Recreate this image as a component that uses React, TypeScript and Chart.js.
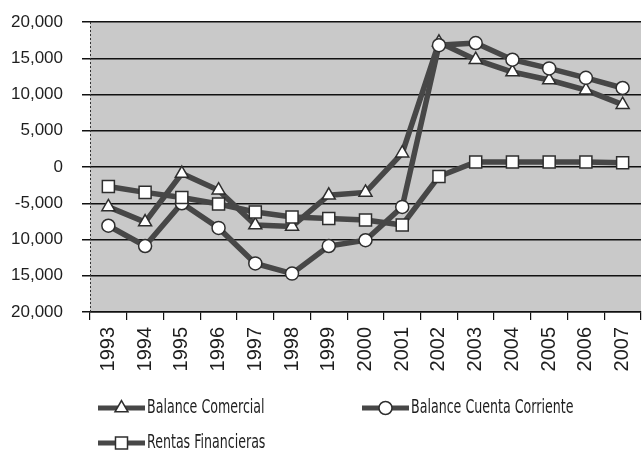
import React, { useEffect, useRef } from 'react';
import { Chart, registerables } from 'chart.js';

Chart.register(...registerables);

const years = ['1993', '1994', '1995', '1996', '1997', '1998', '1999', '2000', '2001', '2002', '2003', '2004', '2005', '2006', '2007'];
const balanceComercial = [-5500, -7600, -900, -3200, -8000, -8200, -3900, -3500, 1900, 17200, 14800, 13100, 12000, 10600, 8600];
const balanceCuentaCorriente = [-8100, -10900, -5000, -8400, -13300, -14700, -10900, -10100, -5500, 16800, 17100, 14800, 13600, 12300, 10900];
const rentasFinancieras = [-2700, -3500, -4200, -5100, -6200, -6900, -7100, -7300, -8000, -1300, 700, 700, 700, 700, 600];
const seriesNames = ['Balance Comercial', 'Balance Cuenta Corriente', 'Rentas Financieras'];
const yTickValues = [20000, 15000, 10000, 5000, 0, -5000, -10000, -15000, -20000];
const yTickLabels = ['20,000', '15,000', '10,000', '5,000', '0', '-5,000', '10,000', '15,000', '20,000'];

const LINE = '#474747';
const MARK_BORDER = '#2e2e2e';
const PLOT_BG = '#c9c9c9';

function drawMarker(ctx: CanvasRenderingContext2D, style: string, x: number, y: number, r: number) {
  ctx.beginPath();
  if (style === 'triangle') {
    ctx.moveTo(x, y - r);
    ctx.lineTo(x + Math.sin((2 * Math.PI) / 3) * r, y + r / 2);
    ctx.lineTo(x - Math.sin((2 * Math.PI) / 3) * r, y + r / 2);
    ctx.closePath();
  } else if (style === 'rect') {
    const s = Math.SQRT1_2 * r;
    ctx.rect(x - s, y - s, 2 * s, 2 * s);
  } else {
    ctx.arc(x, y, r, 0, Math.PI * 2);
  }
  ctx.fillStyle = '#ffffff';
  ctx.fill();
  ctx.lineWidth = 1.5;
  ctx.strokeStyle = MARK_BORDER;
  ctx.stroke();
}

const plotBgPlugin = {
  id: 'plotBg',
  beforeDraw(chart: any) {
    const { ctx, chartArea: a } = chart;
    ctx.save();
    ctx.fillStyle = PLOT_BG;
    ctx.fillRect(a.left, a.top, a.right - a.left, a.bottom - a.top);
    ctx.restore();
  },
  afterDraw(chart: any) {
    const { ctx, chartArea: a } = chart;
    ctx.save();
    ctx.beginPath();
    ctx.setLineDash([2, 2]);
    ctx.moveTo(a.left + 0.5, a.top);
    ctx.lineTo(a.left + 0.5, a.bottom);
    ctx.lineWidth = 1;
    ctx.strokeStyle = '#333';
    ctx.stroke();
    ctx.restore();
  },
};

const legendPlugin = {
  id: 'customLegend',
  afterDraw(chart: any) {
    const { ctx, chartArea: a } = chart;
    const items = [
      { x: a.left + 8, y: a.bottom + 96, ds: 0 },
      { x: a.left + 272, y: a.bottom + 96, ds: 1 },
      { x: a.left + 8, y: a.bottom + 131, ds: 2 },
    ];
    ctx.save();
    items.forEach((it) => {
      const ds = chart.data.datasets[it.ds];
      const len = 47;
      ctx.beginPath();
      ctx.moveTo(it.x, it.y);
      ctx.lineTo(it.x + len, it.y);
      ctx.lineWidth = 5;
      ctx.strokeStyle = LINE;
      ctx.stroke();
      drawMarker(ctx, ds.pointStyle, it.x + len / 2, it.y, ds.pointRadius);
      ctx.save();
      ctx.translate(it.x + len + 2, it.y);
      ctx.scale(0.78, 1.12);
      ctx.font = '18px "DejaVu Sans Condensed", "Liberation Sans Narrow", sans-serif';
      ctx.fillStyle = '#1e1e1e';
      ctx.textBaseline = 'middle';
      ctx.textAlign = 'left';
      ctx.fillText(ds.label, 0, 0);
      ctx.restore();
    });
    ctx.restore();
  },
};

export default function App() {
  const ref = useRef<HTMLCanvasElement | null>(null);

  useEffect(() => {
    document.body.style.margin = '0';
    const canvas = ref.current;
    if (!canvas) return;
    const mk = (label: string, data: number[], style: string, radius: number, order: number) => ({
      label,
      data,
      borderColor: LINE,
      borderWidth: 5.5,
      backgroundColor: '#ffffff',
      pointStyle: style,
      pointRadius: radius,
      pointBackgroundColor: '#ffffff',
      pointBorderColor: MARK_BORDER,
      pointBorderWidth: 1.5,
      tension: 0,
      fill: false,
      order,
    });
    const chart = new Chart(canvas, {
      type: 'line',
      data: {
        labels: years,
        datasets: [
          mk(seriesNames[0], balanceComercial, 'triangle', 7.5, 3),
          mk(seriesNames[1], balanceCuentaCorriente, 'circle', 6.5, 2),
          mk(seriesNames[2], rentasFinancieras, 'rect', 8.5, 1),
        ],
      },
      options: {
        responsive: false,
        animation: false,
        layout: { autoPadding: false, padding: { top: 22, right: 2, left: 0, bottom: 0 } },
        plugins: { legend: { display: false }, tooltip: { enabled: false } },
        scales: {
          x: {
            offset: true,
            grid: { offset: true, drawOnChartArea: false, drawTicks: true, tickLength: 8, color: '#111', lineWidth: 1.2 },
            border: { display: true, color: '#111', width: 1.5 },
            ticks: {
              minRotation: 90,
              maxRotation: 90,
              autoSkip: false,
              padding: 7,
              color: '#1e1e1e',
              font: { family: '"Liberation Sans", Arial, sans-serif', size: 20 },
            },
            afterFit: (s: any) => {
              s.height = 147;
              s.paddingLeft = 0;
              s.paddingRight = 0;
            },
          },
          y: {
            min: -20000,
            max: 20000,
            afterBuildTicks: (s: any) => {
              s.ticks = yTickValues.map((v) => ({ value: v }));
            },
            grid: { color: '#111', lineWidth: 1.5, tickLength: 8, drawTicks: true },
            border: { display: false },
            ticks: {
              padding: 19,
              color: '#1e1e1e',
              font: { family: '"Liberation Sans", Arial, sans-serif', size: 17 },
              callback: (value: any) => {
                const i = yTickValues.indexOf(Number(value));
                return i >= 0 ? yTickLabels[i] : '';
              },
            },
            afterFit: (s: any) => {
              s.width = 90;
              s.paddingTop = 0;
              s.paddingBottom = 0;
            },
          },
        },
      },
      plugins: [plotBgPlugin, legendPlugin],
    });
    return () => chart.destroy();
  }, []);

  return (
    <div style={{ position: 'absolute', left: 0, top: 0, width: 643, height: 459, background: '#fff' }}>
      <canvas ref={ref} width={643} height={459} />
    </div>
  );
}
